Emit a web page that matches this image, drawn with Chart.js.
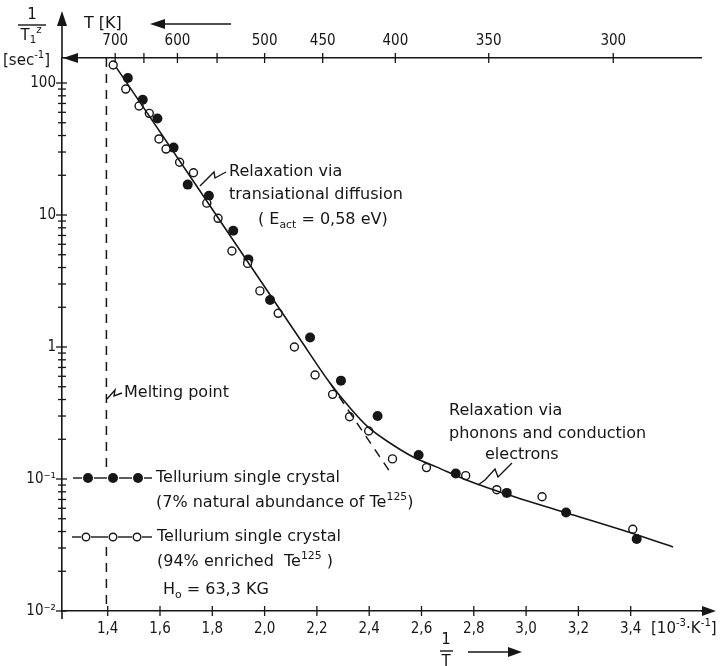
<!DOCTYPE html>
<html>
<head>
<meta charset="utf-8">
<script src="https://cdn.jsdelivr.net/npm/chart.js@4.4.0/dist/chart.umd.min.js"></script>
<style>
  html, body { margin: 0; padding: 0; background: #fff; }
</style>
</head>
<body>
<canvas id="chart" width="728" height="666"></canvas>
<script>
// x = 1/T [10^-3 K^-1], y = 1/T1 [sec^-1]
const filledX = [1.477, 1.534, 1.590, 1.652, 1.706, 1.787, 1.880, 1.938, 2.021, 2.174, 2.292, 2.432, 2.589, 2.731, 2.926, 3.153, 3.423];
const filledY = [109, 74.6, 53.8, 32.4, 17.0, 14.0, 7.59, 4.61, 2.27, 1.18, 0.556, 0.300, 0.152, 0.110, 0.0785, 0.0557, 0.0351];

const openX = [1.421, 1.469, 1.520, 1.559, 1.596, 1.623, 1.675, 1.728, 1.779, 1.822, 1.875, 1.935, 1.982, 2.052, 2.114, 2.193, 2.260, 2.325, 2.398, 2.489, 2.619, 2.769, 2.888, 3.061, 3.408];
const openY = [137, 90, 67, 58.9, 37.7, 31.6, 25.1, 20.9, 12.3, 9.44, 5.34, 4.30, 2.66, 1.80, 1.00, 0.614, 0.438, 0.296, 0.231, 0.142, 0.122, 0.106, 0.083, 0.0734, 0.0416];

// fitted curve and the dashed extrapolation of the diffusion branch
const fitX = [1.432, 1.753, 2.135, 2.250, 2.327, 2.395, 2.491, 2.568, 2.659, 2.774, 2.958, 3.130, 3.367, 3.562];
const fitY = [132, 15.2, 1.15, 0.533, 0.345, 0.248, 0.181, 0.147, 0.123, 0.098, 0.0731, 0.0573, 0.0411, 0.0306];
const extrapX = [2.250, 2.488];
const extrapY = [0.533, 0.107];

// melting point (dashed vertical, interrupted by the legend)
const meltX = 1.395;
const meltY = [155, 0.113, null, 0.0305, 0.01];

// axes
const xTicks = [1.4, 1.6, 1.8, 2.0, 2.2, 2.4, 2.6, 2.8, 3.0, 3.2, 3.4];
const xTickLabels = ["1,4", "1,6", "1,8", "2,0", "2,2", "2,4", "2,6", "2,8", "3,0", "3,2", "3,4"];
const tempTicks = [700, 650, 600, 550, 500, 450, 400, 350, 300];
const tempLabels = ["700", "", "600", "", "500", "450", "400", "350", "300"];
const yDecades = [0.01, 0.1, 1, 10, 100];
const yDecadeLabels = ["10\u207B\u00B2", "10\u207B\u00B9", "1", "10", "100"];
const yMinorSteps = [2, 3, 4, 5, 6, 7, 8, 9];

const xMin = 1.2252, xMax = 3.6689;
const yMin = 0.01, yMax = 154.7;

const INK = "#161616";
const FONT = '"DejaVu Sans", sans-serif';
const TICK_FONT = '"DejaVu Sans Condensed", "Liberation Sans Narrow", "Liberation Sans", sans-serif';

const yTickValues = [];
yDecades.forEach((d) => {
  yTickValues.push(d);
  if (d < 100) yMinorSteps.forEach((s) => yTickValues.push(d * s));
});

function pts(xs, ys) {
  return xs.map((x, i) => ({ x: x, y: ys[i] }));
}

function richText(ctx, str, x, y, size, align) {
  const parts = [];
  const re = /([\^_])\{([^}]*)\}/g;
  let last = 0, m;
  while ((m = re.exec(str))) {
    if (m.index > last) parts.push({ t: str.slice(last, m.index), k: "" });
    parts.push({ t: m[2], k: m[1] });
    last = re.lastIndex;
  }
  if (last < str.length) parts.push({ t: str.slice(last), k: "" });
  let w = 0;
  parts.forEach((p) => {
    ctx.font = (p.k ? size * 0.68 : size) + "px " + FONT;
    p.w = ctx.measureText(p.t).width;
    w += p.w;
  });
  let cx = align === "center" ? x - w / 2 : align === "right" ? x - w : x;
  ctx.textAlign = "left";
  ctx.textBaseline = "middle";
  parts.forEach((p) => {
    ctx.font = (p.k ? size * 0.68 : size) + "px " + FONT;
    const dy = p.k === "^" ? -size * 0.36 : p.k === "_" ? size * 0.3 : 0;
    ctx.fillText(p.t, cx, y + dy);
    cx += p.w;
  });
}

function seg(ctx, x1, y1, x2, y2) {
  ctx.beginPath();
  ctx.moveTo(x1, y1);
  ctx.lineTo(x2, y2);
  ctx.stroke();
}

function poly(ctx, p) {
  ctx.beginPath();
  ctx.moveTo(p[0][0], p[0][1]);
  for (let i = 1; i < p.length; i++) ctx.lineTo(p[i][0], p[i][1]);
  ctx.stroke();
}

function head(ctx, tx, ty, dir, len, half) {
  ctx.beginPath();
  ctx.moveTo(tx, ty);
  if (dir === "left") { ctx.lineTo(tx + len, ty - half); ctx.lineTo(tx + len, ty + half); }
  if (dir === "right") { ctx.lineTo(tx - len, ty - half); ctx.lineTo(tx - len, ty + half); }
  if (dir === "up") { ctx.lineTo(tx - half, ty + len); ctx.lineTo(tx + half, ty + len); }
  ctx.closePath();
  ctx.fill();
}

const decor = {
  id: "decor",
  afterDraw(chart) {
    const ctx = chart.ctx;
    const { left, right, top, bottom } = chart.chartArea;
    const sx = chart.scales.x, sy = chart.scales.y, st = chart.scales.xTop;
    ctx.save();
    ctx.strokeStyle = INK;
    ctx.fillStyle = INK;
    ctx.lineWidth = 1.6;

    // axis extensions and arrows
    seg(ctx, left, top, left, 24);
    head(ctx, left, 11, "up", 15, 5);
    seg(ctx, left, bottom, left, bottom + 8);
    seg(ctx, right, bottom, right + 4, bottom);
    head(ctx, right + 15, bottom, "right", 14, 5);
    head(ctx, left + 1, top, "left", 15, 5);

    // ticks crossing the axes
    ctx.lineWidth = 1.3;
    sy.ticks.forEach((tk) => {
      const py = sy.getPixelForValue(tk.value);
      const major = yDecades.some((d) => Math.abs(tk.value - d) / d < 1e-6);
      seg(ctx, left - (major ? 6 : 4), py, left + (major ? 5 : 4), py);
    });
    sx.ticks.forEach((tk) => {
      const px = sx.getPixelForValue(tk.value);
      seg(ctx, px, bottom - 5, px, bottom + 5);
    });
    st.ticks.forEach((tk) => {
      const px = st.getPixelForValue(tk.value);
      seg(ctx, px, top - 5, px, top + 5);
    });

    // axis titles
    ctx.lineWidth = 1.4;
    richText(ctx, "1", 32, 15, 15, "center");
    seg(ctx, 18, 25, 46, 25);
    richText(ctx, "T_{1}^{z}", 31, 36, 15, "center");
    richText(ctx, "[sec^{-1}]", 3, 61, 15, "left");
    richText(ctx, "T [K]", 84, 24, 16, "left");
    seg(ctx, 162, 24, 231, 24);
    head(ctx, 150, 24, "left", 15, 5);
    richText(ctx, "[10^{-3}\u00B7K^{-1}]", 651, 629, 15, "left");
    richText(ctx, "1", 446, 640, 15, "center");
    seg(ctx, 440, 651, 453, 651);
    richText(ctx, "T", 446, 662, 15, "center");
    seg(ctx, 468, 652, 510, 652);
    head(ctx, 522, 652, "right", 14, 5);

    // annotations
    richText(ctx, "Relaxation via", 229, 172, 16, "left");
    richText(ctx, "transiational diffusion", 229, 195, 16, "left");
    richText(ctx, "( E_{act} = 0,58 eV)", 258, 220, 16, "left");
    poly(ctx, [[226, 172], [215, 178], [214, 172], [200, 186]]);

    richText(ctx, "Melting point", 124, 393, 16, "left");
    poly(ctx, [[122, 393], [114, 396], [115, 390], [107, 399]]);

    richText(ctx, "Relaxation via", 449, 411, 16, "left");
    richText(ctx, "phonons and conduction", 449, 434, 16, "left");
    richText(ctx, "electrons", 485, 455, 16, "left");
    poly(ctx, [[512, 463], [498, 477], [495, 469], [485, 480], [478, 485]]);

    // legend rows
    ctx.lineWidth = 1.4;
    [[73, 82], [94, 107], [119, 132], [144, 152]].forEach((s) => seg(ctx, s[0], 478, s[1], 478));
    [88, 113, 138].forEach((cx) => {
      ctx.beginPath(); ctx.arc(cx, 478, 5, 0, Math.PI * 2); ctx.fill();
    });
    richText(ctx, "Tellurium single crystal", 156, 478, 16, "left");
    richText(ctx, "(7% natural abundance of Te^{125})", 156, 503, 16, "left");

    [[72, 81], [91, 108], [118, 132], [142, 152]].forEach((s) => seg(ctx, s[0], 537, s[1], 537));
    [86, 113, 137].forEach((cx) => {
      ctx.beginPath(); ctx.arc(cx, 537, 3.8, 0, Math.PI * 2);
      ctx.fillStyle = "#fff"; ctx.fill(); ctx.stroke(); ctx.fillStyle = INK;
    });
    richText(ctx, "Tellurium single crystal", 157, 537, 16, "left");
    richText(ctx, "(94% enriched  Te^{125} )", 157, 562, 16, "left");
    richText(ctx, "H_{o} = 63,3 KG", 163, 590, 16, "left");

    ctx.restore();
  },
};

new Chart(document.getElementById("chart"), {
  type: "scatter",
  data: {
    datasets: [
      {
        label: "melting point",
        data: meltY.map((v) => ({ x: meltX, y: v })),
        showLine: true,
        spanGaps: false,
        borderColor: INK,
        borderWidth: 1.5,
        borderDash: [9, 7],
        pointRadius: 0,
      },
      {
        label: "fit",
        data: pts(fitX, fitY),
        showLine: true,
        cubicInterpolationMode: "monotone",
        borderColor: INK,
        borderWidth: 1.6,
        pointRadius: 0,
      },
      {
        label: "extrapolation",
        data: pts(extrapX, extrapY),
        showLine: true,
        borderColor: INK,
        borderWidth: 1.5,
        borderDash: [9, 7],
        pointRadius: 0,
      },
      {
        label: "94% enriched Te125",
        data: pts(openX, openY),
        pointStyle: "circle",
        pointRadius: 4,
        pointBackgroundColor: "#fff",
        pointBorderColor: INK,
        pointBorderWidth: 1.4,
      },
      {
        label: "7% natural abundance",
        data: pts(filledX, filledY),
        pointStyle: "circle",
        pointRadius: 5,
        pointBackgroundColor: INK,
        pointBorderColor: INK,
        pointBorderWidth: 0,
      },
    ],
  },
  options: {
    responsive: false,
    animation: false,
    layout: { padding: { left: 0, right: 27, top: 0, bottom: 0 } },
    plugins: { legend: { display: false }, tooltip: { enabled: false } },
    scales: {
      x: {
        type: "linear",
        position: "bottom",
        min: xMin,
        max: xMax,
        afterBuildTicks: (a) => { a.ticks = xTicks.map((v) => ({ value: v })); },
        afterFit: (s) => { s.height = 55; },
        grid: { display: false, drawTicks: false },
        border: { display: true, color: INK, width: 1.6 },
        ticks: {
          autoSkip: false,
          maxRotation: 0,
          padding: 9,
          color: INK,
          font: { family: TICK_FONT, size: 15 },
          callback: (v, i) => xTickLabels[i],
        },
      },
      xTop: {
        type: "linear",
        position: "top",
        min: xMin,
        max: xMax,
        afterBuildTicks: (a) => { a.ticks = tempTicks.map((t) => ({ value: 1000 / t })); },
        afterFit: (s) => { s.height = 58; },
        grid: { display: false, drawTicks: false },
        border: { display: true, color: INK, width: 1.6 },
        ticks: {
          autoSkip: false,
          maxRotation: 0,
          padding: 8,
          color: INK,
          font: { family: TICK_FONT, size: 15 },
          callback: (v, i) => tempLabels[i],
        },
      },
      y: {
        type: "logarithmic",
        min: yMin,
        max: yMax,
        afterBuildTicks: (a) => { a.ticks = yTickValues.map((v) => ({ value: v })); },
        afterFit: (s) => { s.width = 62; },
        grid: { display: false, drawTicks: false },
        border: { display: true, color: INK, width: 1.6 },
        ticks: {
          autoSkip: false,
          padding: 6,
          color: INK,
          font: { family: TICK_FONT, size: 15 },
          callback: (v) => {
            const i = yDecades.findIndex((d) => Math.abs(v - d) / d < 1e-6);
            return i >= 0 ? yDecadeLabels[i] : "";
          },
        },
      },
    },
  },
  plugins: [decor],
});
</script>
</body>
</html>
